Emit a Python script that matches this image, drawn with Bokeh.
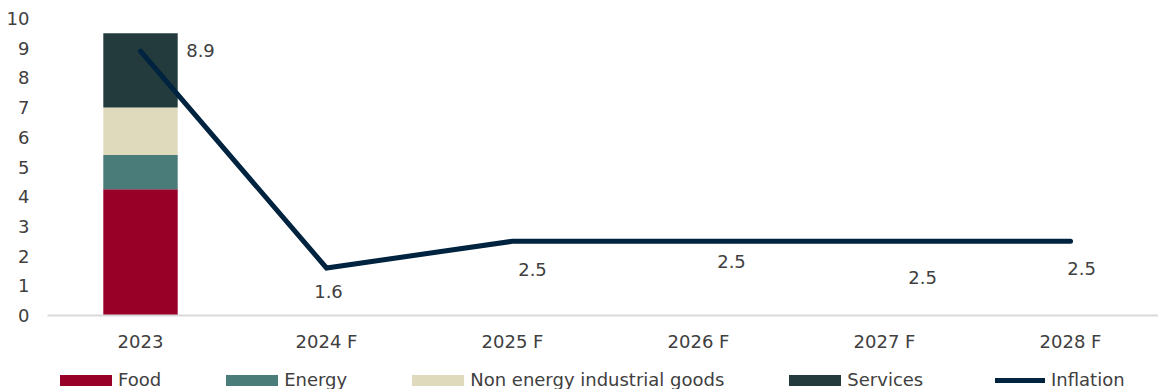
from bokeh.plotting import figure
from bokeh.layouts import column
from bokeh.models import Range1d, ColumnDataSource, Legend, LegendItem, FixedTicker
from bokeh.core.properties import value
from bokeh.embed import file_html
from bokeh.resources import INLINE

categories = ["2023", "2024 F", "2025 F", "2026 F", "2027 F", "2028 F"]
food = [4.25, 0, 0, 0, 0, 0]
energy = [1.15, 0, 0, 0, 0, 0]
non_energy = [1.6, 0, 0, 0, 0, 0]
services = [2.5, 0, 0, 0, 0, 0]
inflation = [8.9, 1.6, 2.5, 2.5, 2.5, 2.5]
inflation_labels = ["8.9", "1.6", "2.5", "2.5", "2.5", "2.5"]

# label placement (screen px offsets), style only
label_dx = [60, 2, 20, 33, 38, 11]
label_dy = [-1, 24, 28, 20, 36, 27]

FONT = "DejaVu Sans"
TXT = "#404040"
LINE_COLOR = "#002340"
colors = ["#990028", "#4a7c7a", "#e0dabd", "#243b3e"]
names = ["Food", "Energy", "Non energy industrial goods", "Services"]
stack_keys = ["food", "energy", "non_energy", "services"]

xs = list(range(len(categories)))
src = ColumnDataSource(dict(x=xs, food=food, energy=energy, non_energy=non_energy,
                            services=services, inflation=inflation,
                            lab=inflation_labels, dx=label_dx, dy=label_dy))

p = figure(width=1158, height=356, output_backend="svg", toolbar_location=None,
           x_range=Range1d(-0.5, 5.473), y_range=Range1d(0, 10),
           min_border_left=47, min_border_right=0, min_border_top=18, min_border_bottom=41)
p.outline_line_color = None
p.grid.grid_line_color = None

bars = p.vbar_stack(stack_keys, x="x", width=0.4,
                    color=colors, line_color=None, source=src)
line = p.line("x", "inflation", source=src, line_color=LINE_COLOR, line_width=5,
              line_cap="round", line_join="miter")
p.text("x", "inflation", text="lab", source=src, x_offset="dx", y_offset="dy",
       text_align="center", text_baseline="middle", text_font=value(FONT),
       text_font_size="18px", text_color=TXT)

p.xaxis.ticker = FixedTicker(ticks=xs)
p.xaxis.major_label_overrides = {i: c for i, c in zip(xs, categories)}
p.yaxis.ticker = FixedTicker(ticks=list(range(0, 11)))
for ax in (p.xaxis, p.yaxis):
    ax.major_tick_line_color = None
    ax.minor_tick_line_color = None
    ax.major_label_text_font = FONT
    ax.major_label_text_font_size = "18px"
    ax.major_label_text_color = TXT
p.yaxis.axis_line_color = None
p.yaxis.major_label_standoff = 12
p.xaxis.axis_line_color = "#d9d9d9"
p.xaxis.axis_line_width = 2
p.xaxis.major_label_standoff = 9

# legend strip (proxy renderers with no visible data)
nan = float("nan")
lg = figure(width=1158, height=33, output_backend="svg", toolbar_location=None,
            x_range=Range1d(0, 1), y_range=Range1d(0, 1),
            min_border=0, x_axis_location=None, y_axis_location=None)
lg.outline_line_color = None
lg.grid.grid_line_color = None
proxy = ColumnDataSource(dict(x=[nan], y=[nan]))
leg_rs = [lg.vbar(x="x", top="y", width=0.1, color=c, line_color=None, source=proxy)
          for c in colors]
leg_line = lg.line("x", "y", source=proxy, line_color=LINE_COLOR, line_width=5,
                   line_cap="round")

common = dict(orientation="horizontal", label_text_font=FONT, label_text_font_size="18px",
              label_text_color=TXT, border_line_color=None, background_fill_alpha=0,
              margin=0, padding=0, label_height=19)
leg_bars = Legend(items=[LegendItem(label=n, renderers=[r]) for n, r in zip(names, leg_rs)],
                  location=(6, -1), glyph_width=65, glyph_height=14, label_standoff=-1,
                  spacing=58, **common)
leg_infl = Legend(items=[LegendItem(label="Inflation", renderers=[leg_line])],
                  location=(948, -1), glyph_width=50, glyph_height=14, label_standoff=6,
                  spacing=0, **common)
lg.add_layout(leg_bars, "center")
lg.add_layout(leg_infl, "center")

layout = column(p, lg, spacing=0)
open("out.html", "w").write(file_html(layout, INLINE))
